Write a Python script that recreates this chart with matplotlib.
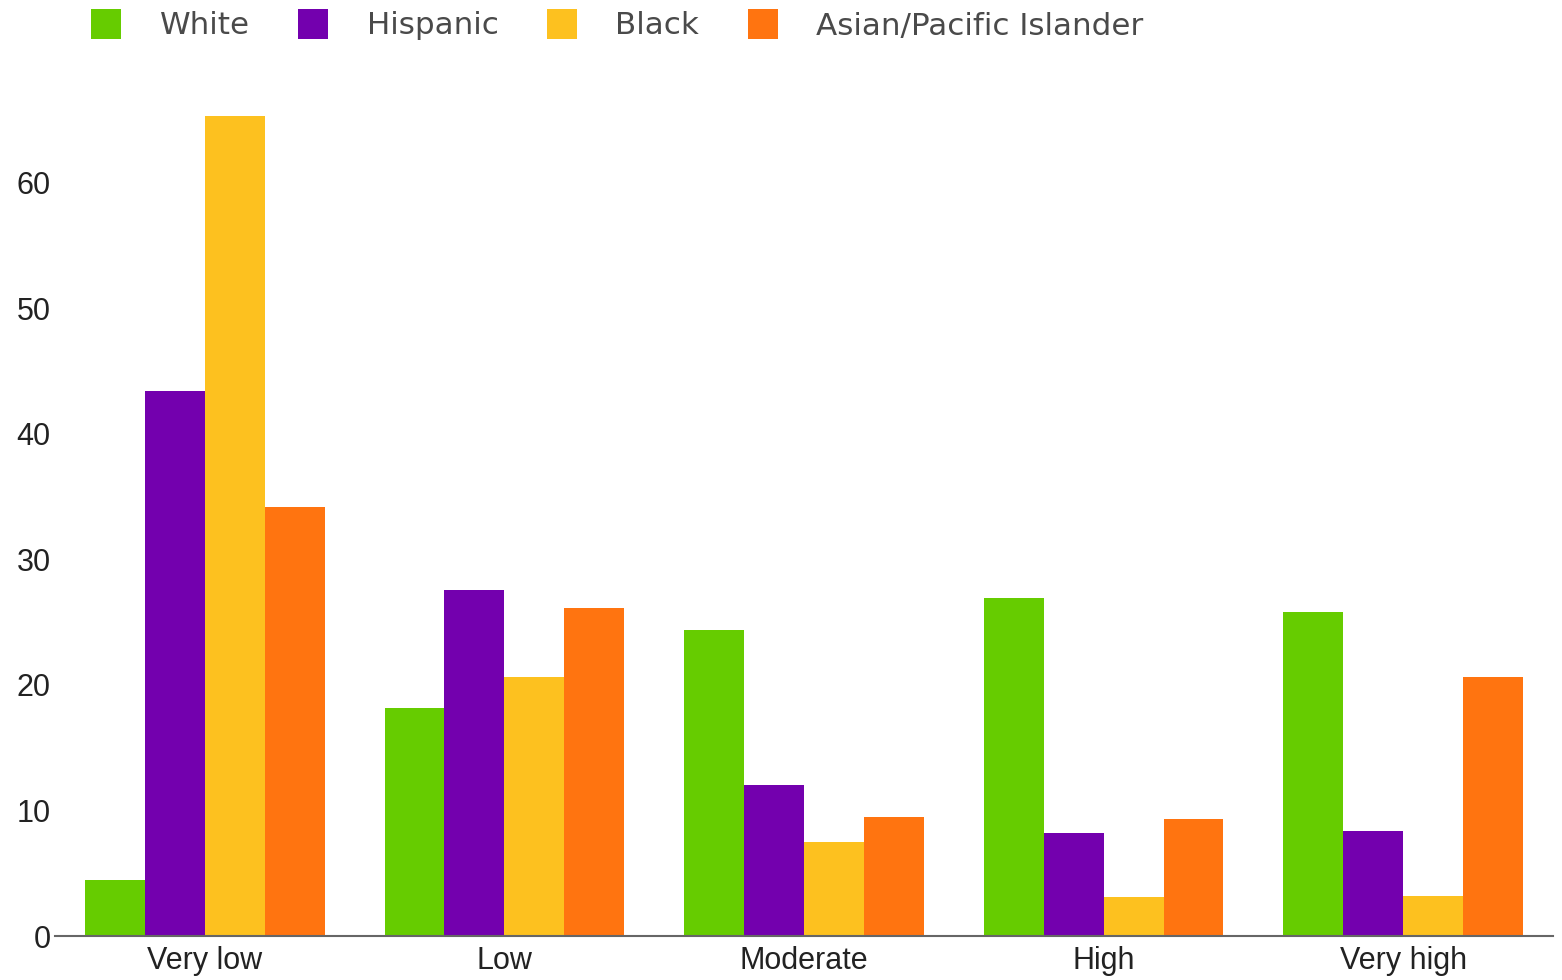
import matplotlib
matplotlib.use("Agg")
import matplotlib.pyplot as plt
import numpy as np
from matplotlib.lines import Line2D

# data
categories = ["Very low", "Low", "Moderate", "High", "Very high"]
series_names = ["White", "Hispanic", "Black", "Asian/Pacific Islander"]
white = [4.5, 18.2, 24.4, 26.9, 25.8]
hispanic = [43.4, 27.6, 12.0, 8.2, 8.4]
black = [65.3, 20.6, 7.5, 3.1, 3.2]
asian = [34.2, 26.1, 9.5, 9.3, 20.6]
colors = ["#66CC00", "#7300AE", "#FDC11F", "#FF7410"]

fig = plt.figure(figsize=(15.62, 9.8), dpi=100)
ax = fig.add_axes([55 / 1562, 1 - 936 / 980, 1498 / 1562, (936 - 95) / 980])

x = np.arange(len(categories))
width = 0.2
for i, (vals, c) in enumerate(zip([white, hispanic, black, asian], colors)):
    ax.bar(x + (i - 1.5) * width, vals, width, color=c, linewidth=0)

ax.set_xlim(-0.5, len(categories) - 0.5)
ax.set_ylim(0, 67)
ax.set_yticks([0, 10, 20, 30, 40, 50, 60])
ax.set_xticks(x)
ax.set_xticklabels(categories)

for side in ["top", "right", "left"]:
    ax.spines[side].set_visible(False)
ax.spines["bottom"].set_color("#666666")
ax.spines["bottom"].set_linewidth(1.5)
ax.tick_params(axis="both", length=0, labelsize=22, labelcolor="#222222",
               labelfontfamily="Liberation Sans")
ax.tick_params(axis="y", pad=3)
ax.tick_params(axis="x", pad=7)

handles = [Line2D([], [], marker="s", linestyle="none", markersize=21.6,
                  markerfacecolor=c, markeredgewidth=0) for c in colors]
fig.legend(handles, series_names, loc="center left", ncol=4,
           bbox_to_anchor=(91 / 1562, 1 - 26 / 980), frameon=False,
           prop={"family": "DejaVu Sans", "size": 22.3}, labelcolor="#4a4a4a",
           handlelength=1.0, handletextpad=1.22, columnspacing=1.55,
           borderpad=0, borderaxespad=0)

fig.savefig("out.png", dpi=100)
